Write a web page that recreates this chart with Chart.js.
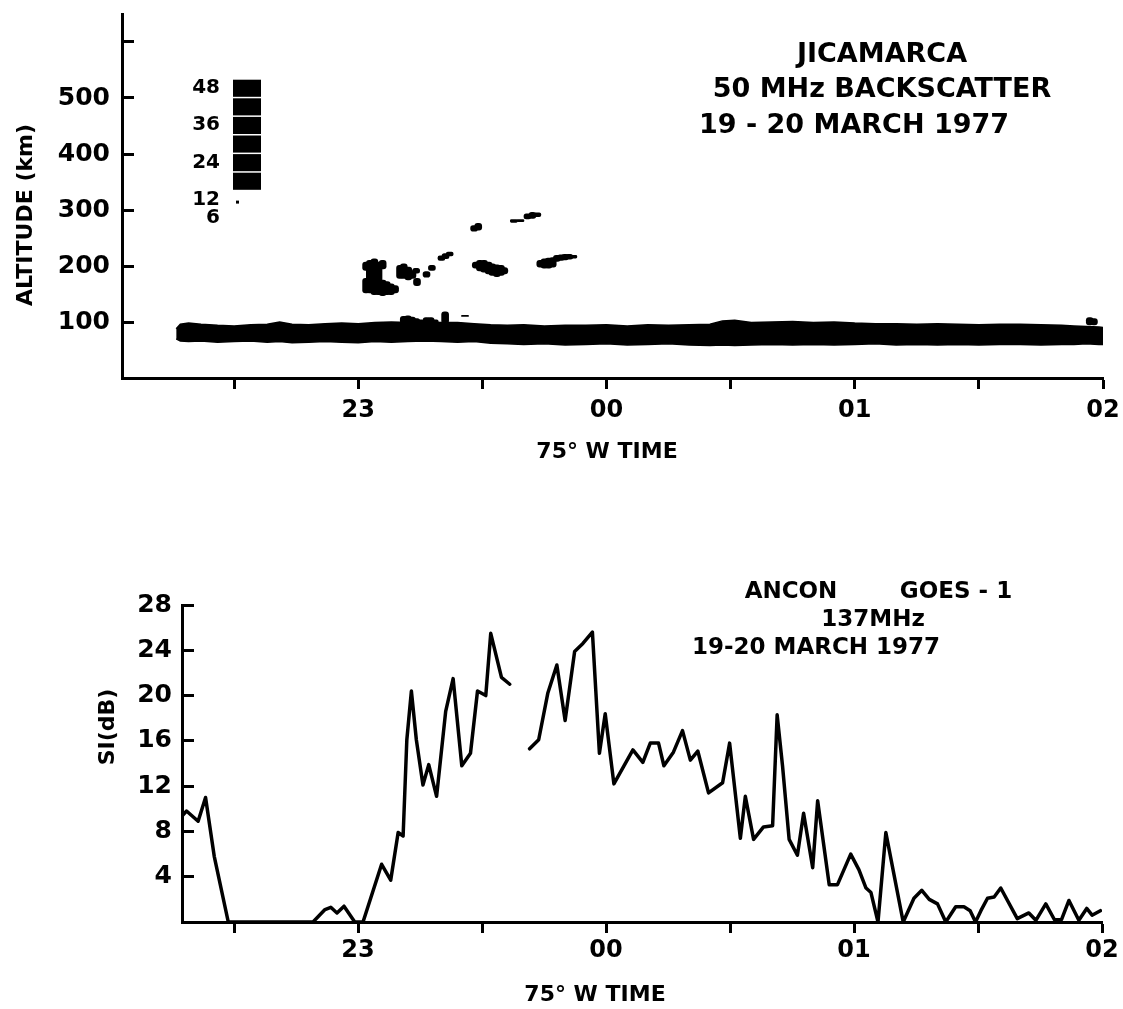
<!DOCTYPE html>
<html>
<head>
<meta charset="utf-8">
<script src="https://cdn.jsdelivr.net/npm/chart.js@4/dist/chart.umd.min.js"></script>
<style>
  html, body { margin: 0; padding: 0; background: #fff; }
  #wrap { position: relative; width: 1123px; height: 1009px; }
  canvas { position: absolute; left: 0; }
  #radar { top: 0; }
  #scint { top: 470px; }
</style>
</head>
<body>
<div id="wrap">
  <canvas id="radar" width="1123" height="470"></canvas>
  <canvas id="scint" width="1123" height="539"></canvas>
</div>
<script>
// time is minutes after 22:00 (75° W)
const hourTicks = [30, 60, 90, 120, 150, 180, 210, 240];
const hourLabels = { 60: "23", 120: "00", 180: "01", 240: "02" };

const altTicks = [100, 200, 300, 400, 500, 600];
const altLabels = ["100", "200", "300", "400", "500", ""];

// E-region echo band, upper and lower edge (km)
const bandT = [16, 17, 19, 22, 26, 30, 34, 38, 41, 44, 48, 52, 56, 60, 64, 68, 72, 76, 80, 84,
  88, 92, 96, 100, 105, 110, 115, 120, 125, 130, 135, 140, 145, 148, 151, 155, 160, 165, 170, 175,
  180, 185, 190, 195, 200, 205, 210, 215, 220, 225, 230, 233, 236, 239, 240];
const bandTop = [88, 96, 98, 96, 94, 93, 95, 96, 100, 96, 95, 97, 98, 97, 99, 100, 99, 100, 99, 99,
  97, 95, 94, 95, 93, 94, 94, 95, 93, 95, 94, 95, 96, 102, 103, 99, 100, 101, 99, 100,
  98, 97, 97, 96, 97, 96, 95, 96, 96, 95, 94, 93, 92, 91, 90];
const bandBottom = [70, 66, 65, 66, 64, 65, 66, 64, 65, 63, 64, 65, 64, 63, 65, 64, 65, 66, 65, 64,
  65, 62, 61, 60, 61, 59, 60, 61, 59, 60, 61, 59, 58, 59, 58, 59, 60, 59, 60, 59,
  60, 61, 59, 60, 59, 60, 59, 60, 60, 59, 60, 60, 61, 60, 60];

// F-region echo patches: time, bottom, top (km)
const echoT = [61.9, 61.9, 62.8, 63.9, 64.9, 65.9, 65.9, 66.9, 67.9, 68.9,
  70.1, 71.0, 72.1, 73.1, 74.0, 74.2, 76.5, 77.8,
  80.1, 81.1, 82.1,
  88.0, 89.0,
  97.6, 99.2,
  100.9, 102.1, 103.3,
  88.4, 89.4, 90.4, 91.5, 92.4, 93.5, 94.5, 95.3,
  104, 105, 106, 107, 108, 109, 110, 111, 112,
  71, 72, 73, 74, 75, 76.5, 77.5, 78.5, 81, 85.8, 236.8, 237.8];
const echoLo = [152, 192, 152, 149, 149, 147, 195, 149, 149, 152,
  178, 178, 175, 178, 187, 165, 180, 192,
  210, 213, 218,
  262, 264,
  278, 279,
  284, 285, 288,
  196, 191, 189, 186, 183, 181, 183, 186,
  198, 196, 196, 198, 208, 210, 211, 212, 214,
  97, 97, 97, 97, 97, 97, 97, 97, 97, 110, 95, 95];
const echoHi = [178, 207, 210, 213, 207, 175, 210, 172, 168, 165,
  201, 204, 198, 192, 196, 178, 190, 201,
  218, 222, 225,
  272, 276,
  283, 283,
  293, 296, 295,
  207, 210, 210, 207, 204, 202, 201, 197,
  210, 213, 214, 215, 219, 220, 221, 221, 219,
  110, 111, 109, 106, 104, 108, 108, 104, 118, 112, 108, 106];

// echo intensity key (dB)
const keyLevels = [48, 42, 36, 30, 24, 18, 12, 6];
const keyLabels = ["48", "", "36", "", "24", "", "12", "6"];

// Ancon GOES-1 137 MHz scintillation index (dB)
const siT = [17.5, 18.5, 21.3, 23.1, 25.2, 28.6, 49.1, 52.0, 53.4, 54.9, 56.6, 59.2, 61.2,
  65.7, 67.9, 69.7, 70.9, 71.8, 72.9, 74.1, 75.7, 77.1, 79.0,
  81.2, 83.0, 85.1, 87.2, 88.9, 90.9, 92.1, 94.7, 96.7, 99.0,
  101.5, 103.7, 105.9, 108.1, 110.1, 112.4, 114.4, 116.7, 118.4, 119.8,
  121.9, 126.5, 128.9, 130.7, 132.7, 134.0, 136.3, 138.5, 140.4, 142.2,
  144.8, 148.2, 149.9, 152.5, 153.7, 155.7, 158.1, 160.3, 161.4, 162.7,
  164.3, 166.3, 167.8, 170.0, 171.2, 174.0, 176.0, 179.2, 181.2, 182.9,
  184.1, 185.8, 187.7, 191.9, 194.5, 196.4, 198.2, 200.2, 202.2, 204.6,
  206.6, 208.1, 209.4, 210.7, 212.3, 213.9, 215.5, 219.5, 222.3, 224.0,
  226.4, 228.5, 230.2, 232.0, 234.4, 236.3, 237.6, 239.6];
const siDb = [9.4, 9.8, 8.9, 11.0, 5.8, 0, 0, 1.1, 1.3, 0.8, 1.4, 0, 0,
  5.1, 3.7, 7.9, 7.6, 16.1, 20.4, 16.1, 12.1, 13.9, 11.1,
  18.6, 21.5, 13.8, 14.9, 20.4, 20.0, 25.5, 21.6, 21.0, null,
  15.3, 16.1, 20.2, 22.7, 17.8, 23.9, 24.6, 25.6, 14.9, 18.4,
  12.2, 15.2, 14.1, 15.8, 15.8, 13.8, 15.0, 16.9, 14.3, 15.1,
  11.4, 12.3, 15.8, 7.4, 11.1, 7.3, 8.4, 8.5, 18.3, 13.8,
  7.3, 5.9, 9.6, 4.8, 10.7, 3.3, 3.3, 6.0, 4.6, 3.0,
  2.6, 0, 7.9, 0, 2.1, 2.8, 2.0, 1.6, 0, 1.35,
  1.35, 1.0, 0, 1.0, 2.1, 2.2, 3.0, 0.3, 0.8, 0.15,
  1.6, 0.2, 0.2, 1.9, 0.15, 1.2, 0.6, 1.0];
const siTicks = [4, 8, 12, 16, 20, 24, 28];

Chart.defaults.font.family = "'DejaVu Sans', sans-serif";
Chart.defaults.font.weight = "bold";
Chart.defaults.color = "#000";

const FONT = "'DejaVu Sans', sans-serif";

// free text and the intensity key
const notes = {
  id: "notes",
  afterDraw(chart, args, opts) {
    const ctx = chart.ctx;
    ctx.save();
    ctx.fillStyle = "#000";
    ctx.textBaseline = "middle";
    (opts.items || []).forEach((it) => {
      ctx.save();
      ctx.font = "bold " + it.size + "px " + FONT;
      ctx.textAlign = it.align || "center";
      ctx.translate(it.x, it.y);
      if (it.rot) ctx.rotate(it.rot);
      ctx.fillText(it.text, 0, 0);
      ctx.restore();
    });
    if (opts.key) {
      const k = opts.key;
      ctx.font = "bold 20px " + FONT;
      ctx.textAlign = "right";
      keyLevels.forEach((lev, i) => {
        const y = k.y + i * k.step;
        if (lev >= 18) ctx.fillRect(k.x, y - k.step / 2 + 1, k.w, k.step - 1.5);
        else if (lev >= 12) ctx.fillRect(k.x + 3, y + 1, 3, 3);
        if (keyLabels[i]) ctx.fillText(keyLabels[i], k.x - 13, y);
      });
    }
    ctx.restore();
  }
};

function timeAxis(minT, height, pad) {
  return {
    type: "linear", min: minT, max: 240, offset: false,
    afterBuildTicks: (s) => { s.ticks = hourTicks.map((v) => ({ value: v })); },
    afterFit: (s) => { s.height = height; s.paddingLeft = 0; s.paddingRight = 0; },
    border: { display: true, color: "#000", width: 3 },
    grid: { offset: false, drawOnChartArea: false, drawTicks: true, tickLength: 11, tickWidth: 3, color: "#000" },
    ticks: {
      padding: pad, maxRotation: 0, autoSkip: false,
      font: { size: 24, weight: "bold" },
      callback: (v) => hourLabels[v] || ""
    }
  };
}

function valueAxis(min, max, ticks, labels, width, pad, size) {
  return {
    min: min, max: max,
    afterBuildTicks: (s) => { s.ticks = ticks.map((v) => ({ value: v })); },
    afterFit: (s) => { s.width = width; s.paddingTop = 0; s.paddingBottom = 0; },
    border: { display: true, color: "#000", width: 3 },
    grid: { offset: false, drawOnChartArea: false, drawTicks: true, tickLength: -12, tickWidth: 3, color: "#000" },
    ticks: { padding: pad, font: { size: size, weight: "bold" }, callback: (v, i) => labels[i] }
  };
}

new Chart(document.getElementById("radar"), {
  type: "bar",
  data: {
    datasets: [
      {
        type: "line",
        data: bandT.map((t, i) => ({ x: t, y: bandTop[i] })),
        fill: "+1", backgroundColor: "#000", borderColor: "#000",
        borderWidth: 1.5, pointRadius: 0, tension: 0
      },
      {
        type: "line",
        data: bandT.map((t, i) => ({ x: t, y: bandBottom[i] })),
        fill: false, borderColor: "#000", borderWidth: 1.5, pointRadius: 0, tension: 0
      },
      {
        type: "bar",
        data: echoT.map((t, i) => ({ x: t, y: [echoLo[i], echoHi[i]] })),
        backgroundColor: "#000", barThickness: 7, borderRadius: 3,
        borderSkipped: false, grouped: false
      }
    ]
  },
  options: {
    responsive: false, animation: false,
    layout: { padding: { top: 14, right: 20, bottom: 2, left: 0 } },
    plugins: {
      legend: { display: false }, tooltip: { enabled: false },
      notes: {
        items: [
          { text: "JICAMARCA", x: 882, y: 55, size: 27 },
          { text: "50 MHz BACKSCATTER", x: 882, y: 90, size: 27 },
          { text: "19 - 20 MARCH 1977", x: 854, y: 126, size: 27 },
          { text: "ALTITUDE (km)", x: 26, y: 215, size: 22, rot: -Math.PI / 2 },
          { text: "75° W TIME", x: 607, y: 452, size: 22 }
        ],
        key: { x: 233, y: 88, step: 18.6, w: 28 }
      }
    },
    scales: {
      x: timeAxis(2.9, 90, 7),
      y: valueAxis(0, 650, altTicks, altLabels, 122, 24, 25)
    }
  },
  plugins: [notes]
});

new Chart(document.getElementById("scint"), {
  type: "line",
  data: {
    datasets: [{
      data: siT.map((t, i) => ({ x: t, y: siDb[i] })),
      borderColor: "#000", borderWidth: 3.5, pointRadius: 0, tension: 0, fill: false,
      borderJoinStyle: "round", borderCapStyle: "round"
    }]
  },
  options: {
    responsive: false, animation: false,
    layout: { padding: { top: 135, right: 21, bottom: 0, left: 0 } },
    plugins: {
      legend: { display: false }, tooltip: { enabled: false },
      notes: {
        items: [
          { text: "ANCON", x: 791, y: 122, size: 23 },
          { text: "GOES - 1", x: 956, y: 122, size: 23 },
          { text: "137MHz", x: 873, y: 150, size: 23 },
          { text: "19-20 MARCH 1977", x: 816, y: 178, size: 23 },
          { text: "SI(dB)", x: 108, y: 257, size: 22, rot: -Math.PI / 2 },
          { text: "75° W TIME", x: 595, y: 525, size: 22 }
        ]
      }
    },
    scales: {
      x: timeAxis(17.4, 87, 3),
      y: valueAxis(0, 28, siTicks, siTicks.map(String), 182, 22, 25)
    }
  },
  plugins: [notes]
});
</script>
</body>
</html>
